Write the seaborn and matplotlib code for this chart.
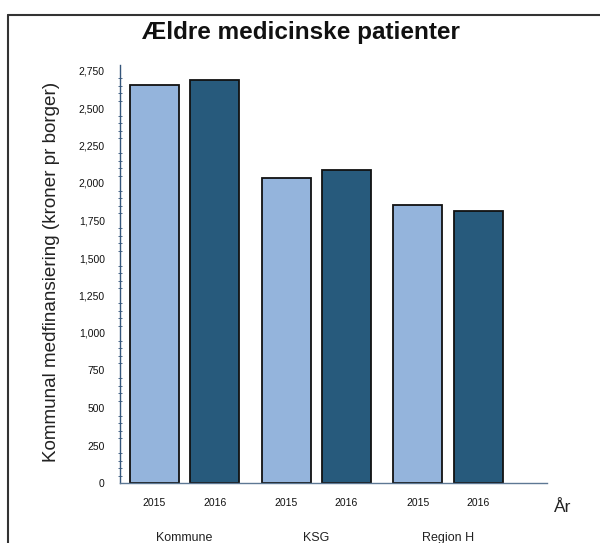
import numpy as np
import pandas as pd
import matplotlib
matplotlib.use("Agg")
import matplotlib.pyplot as plt
import matplotlib.transforms as mtransforms
from matplotlib.ticker import FuncFormatter, MultipleLocator
from matplotlib.lines import Line2D
import seaborn as sns

# ---- data ----
groups = ["Kommune", "KSG", "Region H"]
years = ["2015", "2016"]
values_2015 = [2655, 2035, 1855]
values_2016 = [2690, 2085, 1815]
y_ticks = [0, 250, 500, 750, 1000, 1250, 1500, 1750, 2000, 2250, 2500, 2750]

title = "Ældre medicinske patienter"
y_label = "Kommunal medfinansiering (kroner pr borger)"
x_unit = "År"

df = pd.DataFrame({
    "gruppe": groups * 2,
    "år": [years[0]] * len(groups) + [years[1]] * len(groups),
    "værdi": values_2015 + values_2016,
})

sns.set_style("white")
plt.rcParams["font.family"] = ["Liberation Sans", "DejaVu Sans"]

W, H = 600, 543
fig = plt.figure(figsize=(W / 100, H / 100), dpi=100)
ax_left, ax_bottom = 120 / W, 1 - 483 / H
ax_w, ax_h = 427 / W, (483 - 64.5) / H
ax = fig.add_axes([ax_left, ax_bottom, ax_w, ax_h])

light = "#94b4dc"
dark = "#275a7c"
sns.barplot(data=df, x="gruppe", y="værdi", hue="år", order=groups,
            hue_order=years, palette=[light, dark], saturation=1,
            width=0.917, gap=0.19,
            edgecolor="#111111", linewidth=1.3, legend=False, ax=ax,
            errorbar=None)

ax.set_xlim(-0.489, 2.75)
ax.set_ylim(0, 2790)

# year tick labels under each bar
centers, labels = [], []
for yr, cont in zip(years, ax.containers):
    for bar in cont:
        centers.append(bar.get_x() + bar.get_width() / 2)
        labels.append(yr)
order = np.argsort(centers)
ax.set_xticks([centers[i] for i in order], [labels[i] for i in order])
ax.tick_params(axis="x", length=0, pad=11, labelsize=7.5, labelcolor="#111111")

ax.set_yticks(y_ticks)
ax.yaxis.set_major_formatter(FuncFormatter(lambda v, p: f"{int(v):,}"))
ax.yaxis.set_minor_locator(MultipleLocator(50))
ax.tick_params(axis="y", which="major", direction="out", length=3, width=0.8,
               color="#34557a", labelsize=7.5, labelcolor="#111111", pad=8)
ax.tick_params(axis="y", which="minor", direction="inout", length=2.5,
               width=0.6, color="#34557a", left=True)

ax.set_xlabel("")
ax.set_ylabel("")
for s in ["top", "right"]:
    ax.spines[s].set_visible(False)
ax.spines["left"].set_color("#34557a")
ax.spines["left"].set_linewidth(1.0)
ax.spines["bottom"].set_color("#5d7894")
ax.spines["bottom"].set_linewidth(1.0)

# titles and labels
fig.text(301 / W, 1 - 33 / H, title, ha="center", va="center",
         fontsize=17.5, fontweight="bold", color="#111111")
fig.text(52 / W, 1 - 272 / H, y_label, ha="center", va="center",
         rotation=90, fontsize=13.6, color="#222222")
fig.text(563 / W, 1 - 507 / H, x_unit, ha="center", va="center",
         fontsize=12.5, color="#222222")

trans = mtransforms.blended_transform_factory(ax.transData, fig.transFigure)
for i, g in enumerate(groups):
    ax.text(i, 0.004, g, transform=trans, ha="center", va="baseline",
            fontsize=9, color="#222222", clip_on=False)

# surrounding frame (top and left edges)
fig.add_artist(Line2D([8 / W, 8 / W], [0, 1 - 15 / H], transform=fig.transFigure,
                      color="#333333", lw=1.5))
fig.add_artist(Line2D([8 / W, 1], [1 - 15 / H, 1 - 15 / H], transform=fig.transFigure,
                      color="#333333", lw=1.5))

fig.savefig("out.png", dpi=100)
